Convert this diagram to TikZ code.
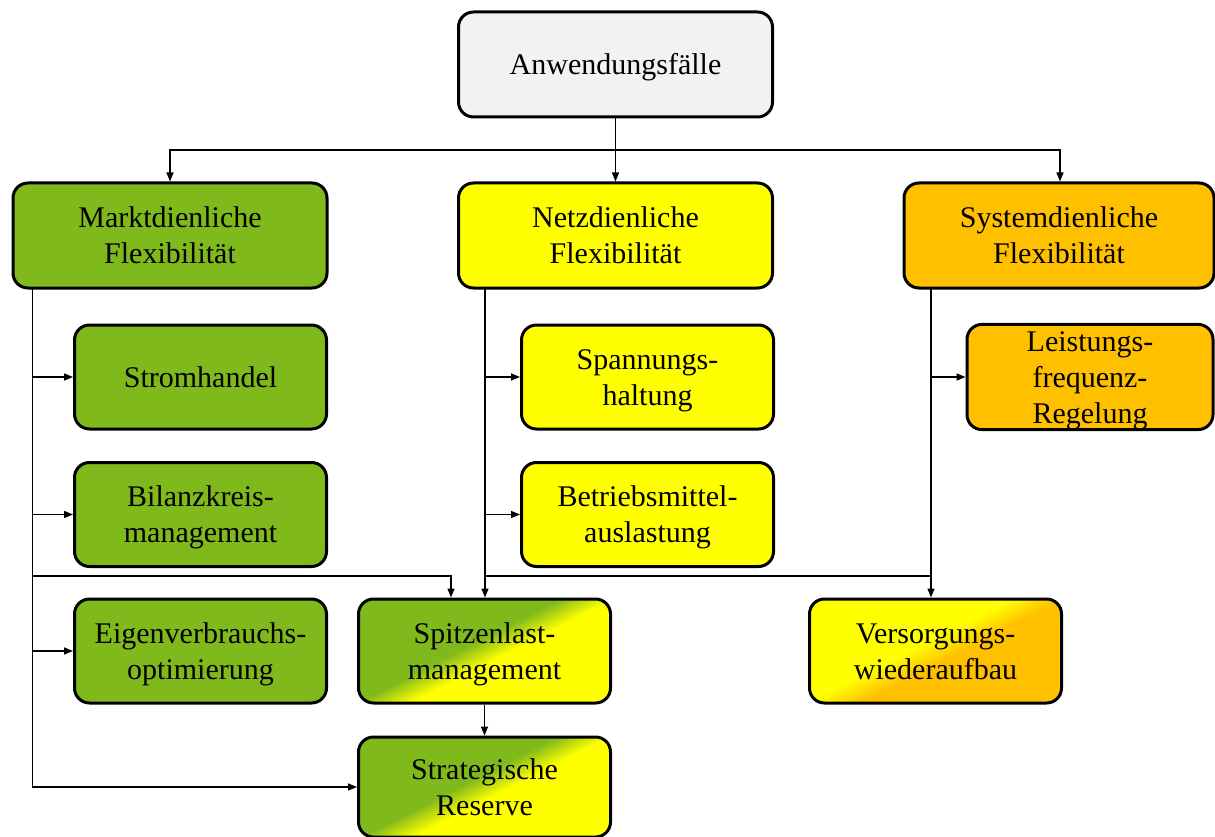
\documentclass[tikz,border=0pt]{standalone}
\usepackage{fontspec}
\setmainfont{Liberation Serif}
\usetikzlibrary{arrows.meta}

\definecolor{mgreen}{RGB}{128,185,28}
\definecolor{nyellow}{RGB}{255,255,0}
\definecolor{sorange}{RGB}{255,192,0}
\definecolor{rootgray}{RGB}{242,242,242}

% diagonal two-colour fills for the shared use cases
\pgfdeclarehorizontalshading{greenyellow}{100bp}{color(0bp)=(mgreen); color(46bp)=(mgreen); color(54bp)=(nyellow); color(100bp)=(nyellow)}
\pgfdeclarehorizontalshading{yelloworange}{100bp}{color(0bp)=(nyellow); color(46bp)=(nyellow); color(54bp)=(sorange); color(100bp)=(sorange)}

\tikzset{
  box/.style={draw=black, line width=3pt, rounded corners=15pt, align=center,
              font=\fontsize{30}{36}\selectfont, inner sep=0pt, text depth=6.5pt},
  % fixed line boxes so that every label sits at the same place
  oneline/.style={text height=26.7pt},
  twolines/.style={text height=62.7pt},
  threelines/.style={text height=98.7pt},
  bigbox/.style={box, minimum width=314pt, minimum height=105pt},
  subbox/.style={box, minimum width=252pt, minimum height=104pt},
  diag/.style={shade, shading=#1, shading angle=-63},
  wire/.style={line width=1.5pt},
  link/.style={line width=1.5pt, -{Triangle[length=9pt,width=7pt]}},
}

\begin{document}
\begin{tikzpicture}[x=1pt,y=-1pt]
\useasboundingbox (0,0) rectangle (1215,837);

% top level
\node[bigbox, oneline, fill=rootgray] (root) at (615.5,64.5) {Anwendungsfälle};

% three categories
\node[bigbox, twolines, fill=mgreen]  (markt) at (170,235.5)   {Marktdienliche\\Flexibilität};
\node[bigbox, twolines, fill=nyellow] (netz)  at (615.5,235.5) {Netzdienliche\\Flexibilität};
\node[bigbox, twolines, fill=sorange, minimum width=310pt] (sys) at (1059,235.5) {Systemdienliche\\Flexibilität};

% market use cases
\node[subbox, oneline,  fill=mgreen] (strom)  at (200.5,377)   {Stromhandel};
\node[subbox, twolines, fill=mgreen] (bilanz) at (200.5,514.5) {Bilanzkreis-\\management};
\node[subbox, twolines, fill=mgreen] (eigen)  at (200.5,651)   {Eigenverbrauchs-\\optimierung};

% grid use cases
\node[subbox, twolines, fill=nyellow] (spann)   at (647.5,377)   {Spannungs-\\haltung};
\node[subbox, twolines, fill=nyellow] (betrieb) at (647.5,514.5) {Betriebsmittel-\\auslastung};

% system use cases
\node[subbox, threelines, fill=sorange, minimum width=246pt] (leist) at (1090,377) {Leistungs-\\frequenz-\\Regelung};

% shared use cases
\node[subbox, twolines, diag=greenyellow] (spitzen) at (484.5,651) {Spitzenlast-\\management};
\node[subbox, twolines, diag=greenyellow, minimum height=100pt] (strat) at (484.5,787) {Strategische\\Reserve};
\node[subbox, twolines, diag=yelloworange] (vers) at (935.5,651) {Versorgungs-\\wiederaufbau};

% distribution bus below the root
\coordinate (bus) at (615.5,150);
\draw[wire] (root.south) -- (bus);
\draw[link] (bus) -| (markt.north);
\draw[link] (bus) -- (netz.north);
\draw[link] (bus) -| ([xshift=1pt]sys.north);

% market trunk
\coordinate (mtop) at (32.5,288);
\coordinate (mj) at (32.5,576);
\draw[link] (mtop) |- (strat.west);
\draw[link] (mtop |- strom) -- (strom.west);
\draw[link] (mtop |- bilanz) -- (bilanz.west);
\draw[link] (mtop |- eigen) -- (eigen.west);
\draw[link] (mj) -| ([xshift=-33.5pt]spitzen.north);

% grid trunk
\coordinate (ntop) at (485,288);
\coordinate (nj) at (485,576);
\draw[link] (ntop) -- (ntop |- spitzen.north);
\draw[link] (ntop |- spann) -- (spann.west);
\draw[link] (ntop |- betrieb) -- (betrieb.west);

% system trunk
\coordinate (stop) at (931,288);
\coordinate (sj) at (931,576);
\draw[link] (stop) -- (stop |- vers.north);
\draw[link] (stop |- leist) -- (leist.west);
\draw[wire] (nj) -- (sj);

% peak load feeds the strategic reserve
\draw[link] (spitzen.south) -- (strat.north);
\end{tikzpicture}
\end{document}
